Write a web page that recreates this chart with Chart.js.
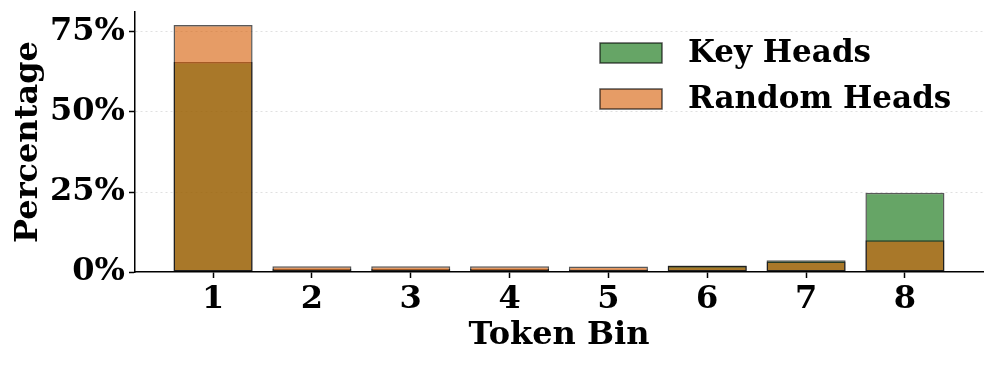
<!DOCTYPE html>
<html>
<head>
<meta charset="utf-8">
<script src="https://cdn.jsdelivr.net/npm/chart.js@4.4.1/dist/chart.umd.min.js"></script>
<style>
  html, body { margin: 0; padding: 0; background: #fff; }
  #wrap { width: 996px; height: 366px; }
</style>
</head>
<body>
<div id="wrap"><canvas id="chart" width="996" height="366"></canvas></div>
<script>
const bins = [1, 2, 3, 4, 5, 6, 7, 8];
const keyHeads = [65.6, 1.0, 0.9, 0.9, 0.8, 2.0, 3.7, 24.8];
const randomHeads = [77.2, 1.8, 1.8, 1.8, 1.7, 1.9, 3.3, 9.9];
const yTicks = [0, 25, 50, 75];

const FONT = '"DejaVu Serif", serif';
const greenFill = 'rgba(0, 105, 0, 0.6)';
const orangeFill = 'rgba(213, 90, 0, 0.6)';
const edge = 'rgba(0, 0, 0, 0.65)';

// legend drawn inside the plot, top right
const innerLegend = {
  id: 'innerLegend',
  afterDraw(chart) {
    const ctx = chart.ctx;
    const items = chart.data.datasets.map(d => ({ label: d.label, fill: d.backgroundColor }));
    const x0 = 600, y0 = 43, bw = 62, bh = 20, gap = 46;
    ctx.save();
    ctx.font = 'bold 31px ' + FONT;
    ctx.textBaseline = 'middle';
    items.forEach((it, i) => {
      const y = y0 + i * gap;
      ctx.fillStyle = it.fill;
      ctx.fillRect(x0, y, bw, bh);
      ctx.strokeStyle = edge;
      ctx.lineWidth = 1.5;
      ctx.strokeRect(x0, y, bw, bh);
      ctx.fillStyle = '#000';
      ctx.fillText(it.label, 688, y + bh / 2 + 1);
    });
    ctx.restore();
  }
};

new Chart(document.getElementById('chart'), {
  type: 'bar',
  data: {
    datasets: [
      { label: 'Key Heads', data: bins.map((b, i) => ({ x: b, y: keyHeads[i] })),
        backgroundColor: greenFill, borderColor: edge, borderWidth: 1.5, borderSkipped: false, order: 2 },
      { label: 'Random Heads', data: bins.map((b, i) => ({ x: b, y: randomHeads[i] })),
        backgroundColor: orangeFill, borderColor: edge, borderWidth: 1.5, borderSkipped: false, order: 1 }
    ]
  },
  options: {
    responsive: false,
    animation: false,
    grouped: false,
    barPercentage: 0.8,
    categoryPercentage: 1,
    layout: { padding: { left: 0, top: 12, right: 13, bottom: 0 } },
    plugins: { legend: { display: false }, tooltip: { enabled: false } },
    scales: {
      x: {
        type: 'linear',
        offset: false,
        min: 0.21, max: 8.79,
        afterBuildTicks: s => { s.ticks = bins.map(v => ({ value: v })); },
        afterFit: s => { s.height = 94; s.paddingLeft = 0; s.paddingRight = 0; },
        ticks: { color: '#000', font: { family: FONT, size: 32, weight: 'bold' }, padding: 2, callback: v => String(v) },
        grid: { offset: false, drawOnChartArea: false, tickLength: 6, tickColor: '#000', tickWidth: 1.5 },
        border: { color: '#000', width: 1.5 },
        title: { display: true, text: 'Token Bin', color: '#000', font: { family: FONT, size: 32, weight: 'bold' }, padding: { top: 0, bottom: 11 } }
      },
      y: {
        min: 0, max: 81.25,
        afterBuildTicks: s => { s.ticks = yTicks.map(v => ({ value: v })); },
        afterFit: s => { s.width = 135; s.paddingTop = 0; s.paddingBottom = 0; },
        ticks: { color: '#000', font: { family: FONT, size: 32, weight: 'bold' }, padding: 4, callback: v => v + '%' },
        grid: { color: ctx => ctx.tick && ctx.tick.value === 0 ? 'rgba(0,0,0,0)' : 'rgba(0,0,0,0.12)', lineWidth: 1,
                tickLength: 6, tickColor: '#000', tickWidth: 1.5 },
        border: { color: '#000', width: 1.5, dash: [2, 3] },
        title: { display: true, text: 'Percentage', color: '#000', font: { family: FONT, size: 32, weight: 'bold' }, padding: { top: 9, bottom: 0 } }
      }
    }
  },
  plugins: [innerLegend]
});
</script>
</body>
</html>
